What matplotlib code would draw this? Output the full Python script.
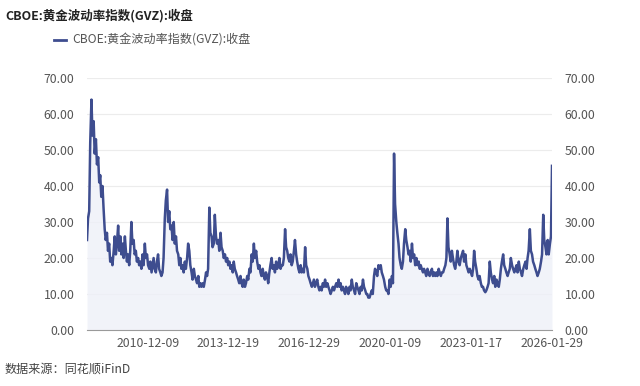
import pandas as pd
import matplotlib
matplotlib.use('Agg')
import matplotlib.pyplot as plt

plt.rcParams['font.family'] = ['Noto Sans CJK SC', 'DejaVu Sans']

title = 'CBOE:黄金波动率指数(GVZ):收盘'
source = '数据来源：同花顺iFinD'

# GVZ 收盘, 每半月一个点 (1日 / 15日)
v2008 = [25, 31, 33, 52, 64, 54, 58, 49]
v2009 = [53, 46, 48, 41, 43, 37, 40, 34, 28, 25, 27, 22,
         24, 19, 20, 18, 22, 26, 21, 24, 29, 22, 26, 21]
v2010 = [24, 20, 26, 22, 19, 21, 18, 22, 30, 24, 25, 21,
         22, 19, 20, 18, 19, 17, 21, 18, 24, 20, 21, 18]
v2011 = [17, 19, 16, 18, 20, 17, 16, 19, 21, 17, 16, 15,
         16, 20, 31, 36, 39, 30, 33, 28, 29, 25, 30, 24]
v2012 = [26, 22, 21, 18, 20, 17, 18, 16, 19, 17, 20, 24,
         22, 18, 16, 14, 17, 15, 14, 13, 15, 12, 13, 12]
v2013 = [13, 12, 14, 16, 15, 17, 34, 27, 26, 23, 24, 32,
         26, 24, 25, 22, 27, 23, 22, 20, 21, 19, 20, 18]
v2014 = [19, 17, 18, 16, 19, 17, 16, 15, 14, 13, 15, 13,
         12, 14, 12, 13, 15, 14, 17, 16, 21, 19, 24, 20]
v2015 = [22, 19, 17, 18, 16, 15, 17, 15, 14, 16, 15, 13,
         16, 18, 20, 17, 18, 16, 19, 17, 18, 20, 17, 18]
v2016 = [18, 20, 28, 23, 22, 20, 19, 21, 18, 19, 22, 25,
         21, 19, 17, 16, 18, 16, 17, 16, 23, 18, 17, 15]
v2017 = [14, 13, 12, 13, 14, 12, 13, 14, 12, 11, 12, 11,
         13, 12, 14, 12, 13, 12, 11, 10, 11, 12, 11, 12]
v2018 = [13, 12, 14, 12, 13, 11, 12, 11, 10, 12, 11, 10,
         12, 11, 14, 12, 11, 10, 13, 12, 11, 10, 12, 11]
v2019 = [14, 12, 11, 10, 10, 9, 9, 10, 11, 10, 15, 17,
         16, 15, 18, 17, 18, 16, 15, 14, 12, 11, 11, 10]
v2020 = [14, 12, 15, 13, 49, 35, 30, 27, 24, 20, 18, 17,
         19, 24, 28, 25, 23, 21, 22, 19, 24, 20, 21, 18]
v2021 = [20, 18, 19, 17, 18, 17, 16, 17, 16, 15, 17, 16,
         15, 16, 17, 15, 16, 15, 16, 15, 17, 16, 15, 16]
v2022 = [16, 17, 18, 20, 31, 23, 21, 19, 22, 20, 18, 17,
         19, 22, 19, 18, 20, 21, 22, 19, 21, 18, 17, 16]
v2023 = [17, 16, 15, 17, 22, 19, 17, 15, 14, 15, 13, 12,
         12, 11, 10.5, 11, 12, 13, 19, 16, 14, 13, 15, 12]
v2024 = [14, 13, 12, 14, 17, 19, 21, 18, 17, 16, 15, 16,
         17, 20, 18, 17, 16, 17, 18, 16, 19, 17, 16, 15]
v2025 = [17, 18, 19, 17, 20, 22, 28, 22, 21, 19, 18, 17,
         16, 15, 16, 17, 19, 21, 32, 25, 23, 21, 25, 21]
v2026 = [24, 26, 45.6]

values = (v2008 + v2009 + v2010 + v2011 + v2012 + v2013 + v2014 + v2015 + v2016
          + v2017 + v2018 + v2019 + v2020 + v2021 + v2022 + v2023 + v2024 + v2025 + v2026)
dates = list(pd.date_range('2008-09-01', '2026-01-15', freq='SMS')) + [pd.Timestamp('2026-01-29')]
df = pd.DataFrame({'date': dates, 'close': values})

tick_dates = ['2010-12-09', '2013-12-19', '2016-12-29', '2020-01-09', '2023-01-17', '2026-01-29']

line_color = '#3e4d8f'
text_color = '#555555'

fig = plt.figure(figsize=(6.4, 3.86), dpi=100)
ax = fig.add_axes([87 / 640, 1 - 330 / 386, 465 / 640, 252 / 386])

ax.fill_between(df['date'], df['close'], 0, color='#eef0f8', alpha=0.8, lw=0)
ax.plot(df['date'], df['close'], color=line_color, lw=1.8)

ax.set_ylim(0, 70)
ax.set_xlim(pd.Timestamp('2008-09-01'), pd.Timestamp('2026-01-29'))
ax.set_yticks(range(0, 71, 10))
ax.set_yticklabels([f'{t:.2f}' for t in range(0, 71, 10)])
ax.set_xticks([pd.Timestamp(d) for d in tick_dates])
ax.set_xticklabels(tick_dates)

ax.grid(axis='y', color='#ececec', lw=0.8)
ax.set_axisbelow(True)
for s in ['top', 'left', 'right']:
    ax.spines[s].set_visible(False)
ax.spines['bottom'].set_color('#9a9a9a')
ax.tick_params(axis='both', length=0, labelsize=8.8, colors=text_color)
ax.tick_params(axis='x', pad=5)
ax.tick_params(axis='y', pad=9, labelright=True)

fig.text(5 / 640, 1 - 16 / 386, title, fontsize=9, fontweight='bold', color='#222222', va='center')
fig.lines.append(plt.Line2D([54 / 640, 66 / 640], [1 - 40 / 386, 1 - 40 / 386],
                            color=line_color, lw=2, transform=fig.transFigure))
fig.text(72 / 640, 1 - 40 / 386, title, fontsize=8.7, color=text_color, va='center')
fig.text(5 / 640, 1 - 369 / 386, source, fontsize=8.7, color='#444444', va='center')

fig.savefig('out.png', dpi=100)
